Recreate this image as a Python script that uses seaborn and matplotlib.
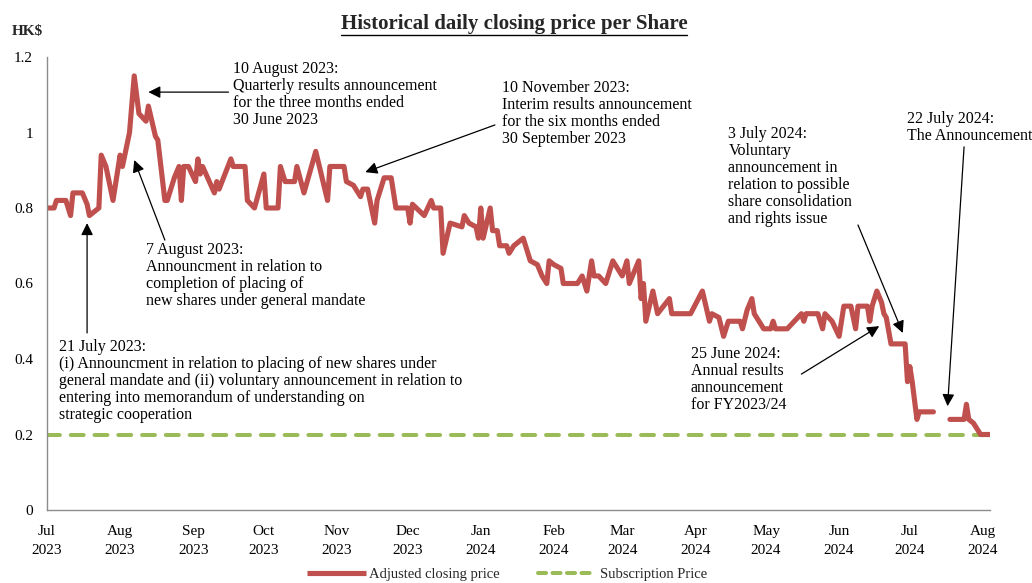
import matplotlib
matplotlib.use("Agg")
import matplotlib.pyplot as plt
import matplotlib.dates as mdates
from matplotlib.lines import Line2D
from matplotlib.ticker import FuncFormatter, FixedLocator
import seaborn as sns
import pandas as pd
import numpy as np

# ---------------- data ----------------
dates = [
    "2023-07-01", "2023-07-04", "2023-07-05", "2023-07-09", "2023-07-11", "2023-07-12", "2023-07-16",
    "2023-07-18", "2023-07-19", "2023-07-23", "2023-07-24", "2023-07-26", "2023-07-29",
    "2023-08-01", "2023-08-02", "2023-08-05", "2023-08-07", "2023-08-09", "2023-08-12", "2023-08-13",
    "2023-08-16", "2023-08-17", "2023-08-20", "2023-08-21", "2023-08-24", "2023-08-26", "2023-08-27",
    "2023-08-28", "2023-08-30",
    "2023-09-02", "2023-09-03", "2023-09-04", "2023-09-05", "2023-09-10", "2023-09-11", "2023-09-12",
    "2023-09-17", "2023-09-18", "2023-09-23", "2023-09-24", "2023-09-27",
    "2023-10-01", "2023-10-02", "2023-10-07", "2023-10-08", "2023-10-10", "2023-10-14", "2023-10-15",
    "2023-10-18", "2023-10-23", "2023-10-28", "2023-10-29",
    "2023-11-04", "2023-11-05", "2023-11-08", "2023-11-11", "2023-11-12", "2023-11-14", "2023-11-17",
    "2023-11-18", "2023-11-21", "2023-11-24", "2023-11-26",
    "2023-12-01", "2023-12-02", "2023-12-03", "2023-12-08", "2023-12-11", "2023-12-12", "2023-12-15",
    "2023-12-16", "2023-12-19", "2023-12-24", "2023-12-25", "2023-12-27", "2023-12-30", "2023-12-31",
    "2024-01-01", "2024-01-02", "2024-01-05", "2024-01-06", "2024-01-08", "2024-01-09", "2024-01-12",
    "2024-01-13", "2024-01-15", "2024-01-19", "2024-01-20", "2024-01-22", "2024-01-25", "2024-01-27",
    "2024-01-29", "2024-01-30",
    "2024-02-01", "2024-02-04", "2024-02-05", "2024-02-11", "2024-02-13", "2024-02-15", "2024-02-17",
    "2024-02-18", "2024-02-20", "2024-02-23", "2024-02-26", "2024-02-28",
    "2024-03-01", "2024-03-03", "2024-03-04", "2024-03-08", "2024-03-09", "2024-03-10", "2024-03-11",
    "2024-03-14", "2024-03-16", "2024-03-21", "2024-03-22", "2024-03-30",
    "2024-04-04", "2024-04-07", "2024-04-08", "2024-04-11", "2024-04-13", "2024-04-15", "2024-04-20",
    "2024-04-21", "2024-04-23", "2024-04-25", "2024-04-26", "2024-04-30",
    "2024-05-03", "2024-05-04", "2024-05-05", "2024-05-10", "2024-05-13", "2024-05-16", "2024-05-17",
    "2024-05-18", "2024-05-23", "2024-05-25", "2024-05-26", "2024-05-29",
    "2024-06-01", "2024-06-03", "2024-06-06", "2024-06-08", "2024-06-09", "2024-06-13", "2024-06-14",
    "2024-06-15", "2024-06-17", "2024-06-19", "2024-06-20", "2024-06-21", "2024-06-23", "2024-06-29",
    "2024-06-30",
    "2024-07-01", "2024-07-02", "2024-07-04", "2024-07-05", "2024-07-11",
    "2024-07-14",  # trading halt (no price)
    "2024-07-18", "2024-07-24", "2024-07-25", "2024-07-26", "2024-07-28", "2024-07-31", "2024-08-05",
]
prices = [
    0.80, 0.80, 0.82, 0.82, 0.78, 0.84, 0.84, 0.81, 0.78, 0.80, 0.94, 0.91, 0.82,
    0.94, 0.91, 1.00, 1.15, 1.05, 1.03, 1.07, 0.99, 0.98, 0.82, 0.82, 0.88, 0.91, 0.82, 0.91, 0.91,
    0.87, 0.93, 0.89, 0.91, 0.84, 0.87, 0.85, 0.93, 0.91, 0.91, 0.82, 0.80,
    0.89, 0.80, 0.80, 0.91, 0.87, 0.87, 0.91, 0.84, 0.95, 0.82, 0.91,
    0.91, 0.87, 0.86, 0.83, 0.85, 0.85, 0.76, 0.82, 0.88, 0.88, 0.80,
    0.80, 0.76, 0.81, 0.78, 0.82, 0.80, 0.80, 0.68, 0.76, 0.75, 0.78, 0.76, 0.75, 0.72,
    0.80, 0.72, 0.80, 0.74, 0.74, 0.70, 0.70, 0.68, 0.70, 0.72, 0.70, 0.66, 0.65, 0.62, 0.60, 0.66,
    0.65, 0.64, 0.60, 0.60, 0.62, 0.58, 0.66, 0.62, 0.62, 0.60, 0.66, 0.64,
    0.62, 0.66, 0.60, 0.66, 0.56, 0.60, 0.50, 0.58, 0.52, 0.56, 0.52, 0.52,
    0.58, 0.50, 0.52, 0.51, 0.46, 0.50, 0.50, 0.48, 0.53, 0.56, 0.52, 0.48,
    0.48, 0.50, 0.48, 0.48, 0.50, 0.52, 0.50, 0.52, 0.52, 0.48, 0.52, 0.50,
    0.46, 0.54, 0.54, 0.48, 0.54, 0.54, 0.50, 0.54, 0.58, 0.55, 0.52, 0.51, 0.44, 0.44, 0.34,
    0.38, 0.34, 0.24, 0.26, 0.26,
    np.nan,
    0.24, 0.24, 0.28, 0.24, 0.23, 0.20, 0.20,
]
subscription_price = 0.20

y_ticks = [0, 0.2, 0.4, 0.6, 0.8, 1.0, 1.2]
y_tick_labels = ["0", "0.2", "0.4", "0.6", "0.8", "1", "1.2"]
x_ticks = pd.date_range("2023-07-01", "2024-08-01", freq="MS")

title_text = "Historical daily closing price per Share"
legend_labels = ["Adjusted closing price", "Subscription Price"]

# annotations: (text, text_left_date, text_top_value, tail_date, tail_value, tip_date, tip_value)
annotations = [
    ("10 August 2023:\nQuarterly results announcement\nfor the three months ended\n30 June 2023",
     "2023-09-18", 1.19, "2023-09-16", 1.107, "2023-08-13", 1.107),
    ("7 August 2023:\nAnnouncment in relation to\ncompletion of placing of\nnew shares under general mandate",
     "2023-08-12", 0.71, "2023-08-20", 0.715, "2023-08-07", 0.927),
    ("21 July 2023:\n(i) Announcment in relation to placing of new shares under\n"
     "general mandate and (ii) voluntary announcement in relation to\n"
     "entering into memorandum of understanding on\nstrategic cooperation",
     "2023-07-06", 0.452, "2023-07-18", 0.469, "2023-07-18", 0.760),
    ("10 November 2023:\nInterim results announcement\nfor the six months ended\n30 September 2023",
     "2024-01-10", 1.14, "2024-01-07", 1.02, "2023-11-13", 0.895),
    ("3 July 2024:\nVoluntary\nannouncement in\nrelation to possible\nshare consolidation\nand rights issue",
     "2024-04-15", 1.017, "2024-06-09", 0.755, "2024-06-28", 0.469),
    ("22 July 2024:\nThe Announcement",
     "2024-06-30", 1.056, "2024-07-24", 0.962, "2024-07-17", 0.275),
    ("25 June 2024:\nAnnual results\nannouncement\nfor FY2023/24",
     "2024-03-30", 0.434, "2024-05-16", 0.36, "2024-06-18", 0.487),
]

# ---------------- style ----------------
RED = "#C0504D"
GREEN = "#9BBB59"
W, H, DPI = 1032, 583, 100

sns.set_style("white")
plt.rcParams["font.family"] = ["Liberation Serif", "DejaVu Serif"]
plt.rcParams["font.size"] = 11

df = pd.DataFrame({"date": pd.to_datetime(dates), "price": prices})
df["segment"] = df["price"].isna().cumsum()
df = df.dropna()

fig = plt.figure(figsize=(W / DPI, H / DPI), dpi=DPI)
ax = fig.add_axes([47 / W, 73 / H, (990 - 47) / W, 453 / H])

sns.lineplot(data=df, x="date", y="price", units="segment", estimator=None,
             color=RED, linewidth=3.7, ax=ax, legend=False,
             solid_joinstyle="round", solid_capstyle="round")

ax.axhline(subscription_price, color=GREEN, linewidth=2.9, dashes=(3.2, 2.7),
           dash_capstyle="round", zorder=1)

ax.set_xlim(mdates.date2num(pd.Timestamp("2023-07-01")), mdates.date2num(pd.Timestamp("2024-08-04")))
ax.set_ylim(0, 1.2)
ax.set_xlabel("")
ax.set_ylabel("")

ax.xaxis.set_major_locator(FixedLocator(mdates.date2num(x_ticks)))
ax.xaxis.set_major_formatter(FuncFormatter(lambda v, p: mdates.num2date(v).strftime("%b\n%Y")))
ax.yaxis.set_major_locator(FixedLocator(y_ticks))
ax.yaxis.set_major_formatter(FuncFormatter(lambda v, p: y_tick_labels[int(round(v / 0.2))]))

for s in ["top", "right"]:
    ax.spines[s].set_visible(False)
for s in ["left", "bottom"]:
    ax.spines[s].set_color("#8C8C8C")
    ax.spines[s].set_linewidth(1.0)
ax.tick_params(axis="both", which="major", direction="out", length=4, width=1.0,
               color="#8C8C8C", labelsize=11, labelcolor="black")
ax.tick_params(axis="y", pad=6)
ax.tick_params(axis="x", pad=7)
for lab in ax.get_xticklabels():
    lab.set_linespacing(1.6)

# annotations
for text, tx, ty, ax_d, ax_v, tip_d, tip_v in annotations:
    ax.text(mdates.date2num(pd.Timestamp(tx)), ty, text, ha="left", va="top",
            fontsize=11.5, linespacing=1.08, clip_on=False, color="black")
    ax.annotate("", xy=(mdates.date2num(pd.Timestamp(tip_d)), tip_v),
                xytext=(mdates.date2num(pd.Timestamp(ax_d)), ax_v),
                xycoords="data", textcoords="data", annotation_clip=False,
                arrowprops=dict(arrowstyle="-|>,head_length=0.6,head_width=0.3",
                                color="black", lw=0.9, mutation_scale=12,
                                shrinkA=0, shrinkB=0))

# title with underline
title = fig.text(514 / W, 1 - 29 / H, title_text, ha="center", va="baseline",
                 fontsize=15, fontweight="bold")
fig.text(12 / W, 1 - 35 / H, "HK$", ha="left", va="baseline", fontsize=11, fontweight="bold")

# legend
handles = [
    Line2D([], [], color=RED, linewidth=3.7, solid_capstyle="butt"),
    Line2D([], [], color=GREEN, linewidth=2.9, dashes=(2.0, 1.6), dash_capstyle="round"),
]
fig.legend(handles, legend_labels, loc="center", bbox_to_anchor=(507 / W, 1 - 574 / H),
           ncol=2, frameon=False, fontsize=10.5, handlelength=4.0, handletextpad=0.25,
           columnspacing=2.6, borderpad=0.1)

fig.canvas.draw()
bb = title.get_window_extent()
uy = bb.y0 - 1
fig.add_artist(Line2D([bb.x0 / W, bb.x1 / W], [uy / H, uy / H], transform=fig.transFigure,
                      color="black", linewidth=1.0))

fig.savefig("out.png", dpi=DPI)
